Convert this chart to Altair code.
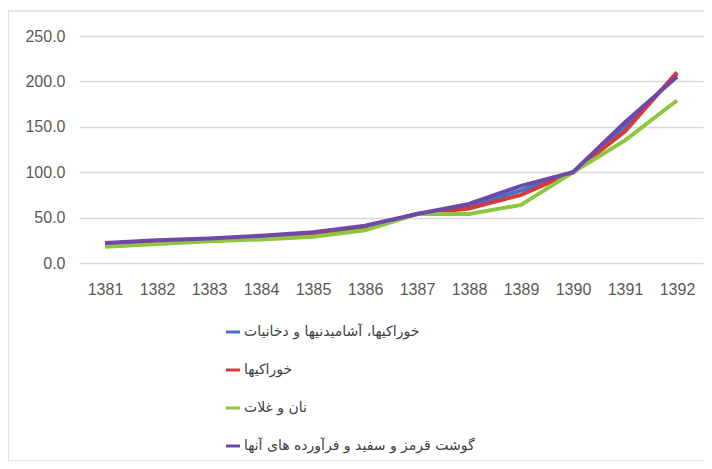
import altair as alt
import pandas as pd

years = ["1381", "1382", "1383", "1384", "1385", "1386", "1387", "1388", "1389", "1390", "1391", "1392"]
series_names = [
    "خوراکیها، آشامیدنیها و دخانیات",
    "خوراکیها",
    "نان و غلات",
    "گوشت قرمز و سفید و فرآورده های آنها",
]
food_bev_tobacco = [20, 23, 26, 28, 32, 39, 54, 62, 80, 100, 150, 208]
foods = [20, 23, 26, 28, 32, 39, 54, 60, 75, 100, 145, 210]
bread_cereals = [18, 21, 24, 26, 29, 36, 54, 54, 64, 100, 135, 179]
meat = [22, 25, 27, 30, 34, 41, 54, 65, 85, 100, 155, 205]
colors = ["#4472C4", "#D43A3C", "#8DC63F", "#7048A8"]

rows = []
for order, (name, vals) in enumerate(zip(series_names, [food_bev_tobacco, foods, bread_cereals, meat])):
    for y, v in zip(years, vals):
        rows.append({"year": y, "value": v, "series": name, "order": order})
df = pd.DataFrame(rows)

font = "Liberation Sans"

frame = alt.Chart(alt.Data(values=[{}])).mark_rect(
    fill="transparent", stroke="#d9d9d9", strokeWidth=1.5, clip=False
).encode(
    x=alt.value(-71), x2=alt.value(626), y=alt.value(-25), y2=alt.value(425)
)

lines = alt.Chart(df).mark_line(strokeWidth=4).encode(
    x=alt.X("year:O", sort=years,
            scale=alt.Scale(type="point", padding=0.5),
            axis=alt.Axis(title=None, labelAngle=0, grid=False, domain=False, ticks=False,
                          labelPadding=18, labelFont=font, labelFontSize=16, labelColor="#595959")),
    y=alt.Y("value:Q", scale=alt.Scale(domain=[0, 250], nice=False),
            axis=alt.Axis(title=None, values=[0, 50, 100, 150, 200, 250], format=".1f",
                          domain=False, ticks=False, gridColor="#d9d9d9", gridWidth=1.5,
                          labelPadding=14, labelFont=font, labelFontSize=16, labelColor="#595959")),
    color=alt.Color("series:N", sort=series_names,
                    scale=alt.Scale(domain=series_names, range=colors),
                    legend=alt.Legend(title=None, orient="none", legendX=145, legendY=287,
                                      direction="vertical", symbolType="stroke", symbolSize=200,
                                      symbolStrokeWidth=3, labelFontSize=14, labelColor="#404040",
                                      labelFont="DejaVu Sans", rowPadding=22, labelOffset=2,
                                      labelLimit=400)),
    order=alt.Order("order:Q"),
    detail="series:N",
)

chart = alt.layer(frame, lines).properties(
    width=624, height=227,
    padding={"left": 71, "top": 28, "right": 1, "bottom": 198},
    autosize=alt.AutoSizeParams(type="none"),
).configure_view(stroke=None)

chart.save("out.html", embed_options={"renderer": "svg", "actions": False})
